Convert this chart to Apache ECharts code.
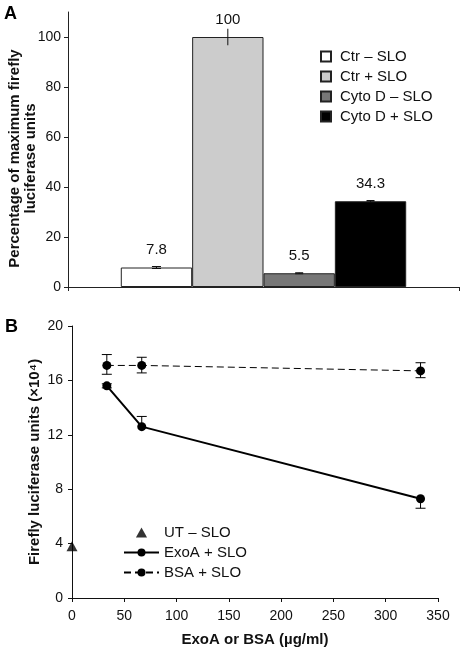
<!DOCTYPE html>
<html>
<head>
<meta charset="utf-8">
<script src="https://cdn.jsdelivr.net/npm/echarts@6/dist/echarts.min.js"></script>
<style>html,body{margin:0;padding:0;background:#fff}#c{width:462px;height:648px}</style>
</head>
<body>
<div id="c"></div>
<script>
// ---- Panel A data ----
const barNames = ['Ctr \u2013 SLO', 'Ctr + SLO', 'Cyto D \u2013 SLO', 'Cyto D + SLO'];
const barValues = [7.8, 100, 5.5, 34.3];
const barErrors = [0.4, 3.3, 0.2, 0.3];
const barLabels = ['7.8', '100', '5.5', '34.3'];
const yTicksA = [0, 20, 40, 60, 80, 100];

// ---- Panel B data ----
const doseX = [33.3, 66.7, 333.3];
const exoA = [15.6, 12.6, 7.3];
const exoAErrUp = [0.15, 0.75, 0];
const exoAErrDown = [0.15, 0, 0.7];
const bsa = [17.1, 17.1, 16.7];
const bsaErrUp = [0.8, 0.6, 0.6];
const bsaErrDown = [0.65, 0.55, 0.5];
const utX = [0];
const utY = [3.8];
const lineNames = ['UT \u2013 SLO', 'ExoA + SLO', 'BSA + SLO'];

// styles
const barColors = ['#ffffff', '#cccccc', '#777777', '#000000'];
const capW = [9, 0, 8, 8];
const FONT = 'Liberation Sans, Arial, sans-serif';
const catGap = 0.27;
const triPath = 'path://M5,0L10,9L0,9Z';

const chart = echarts.init(document.getElementById('c'), null, {renderer: 'canvas'});

const barSeries = barNames.map((n, i) => ({
  name: n, type: 'bar', xAxisIndex: 0, yAxisIndex: 0,
  data: [barValues[i]],
  barGap: '0%', barCategoryGap: (catGap * 100) + '%',
  itemStyle: {color: barColors[i], borderColor: '#222', borderWidth: 1},
  label: {show: true, position: 'top', distance: 10, formatter: () => barLabels[i],
          fontFamily: FONT, fontSize: 15, color: '#111'},
  emphasis: {disabled: true}
}));

const errA = {
  type: 'custom', xAxisIndex: 0, yAxisIndex: 0, z: 5, silent: true,
  data: barValues.map((v, i) => [0, v, barErrors[i], i]),
  encode: {x: 0, y: 1},
  renderItem: function (params, api) {
    const i = api.value(3);
    const v = api.value(1), e = api.value(2);
    const c = api.coord([0, v]);
    const band = api.size([1, 0])[0];
    const groupW = band * (1 - catGap);
    const bw = groupW / barValues.length;
    const x = c[0] - groupW / 2 + (i + 0.5) * bw;
    const yt = api.coord([0, v + e])[1];
    const yb = api.coord([0, v - e])[1];
    const w = capW[i] / 2;
    const st = {stroke: '#111', lineWidth: 1};
    const ch = [{type: 'line', shape: {x1: x, y1: yt, x2: x, y2: yb}, style: st}];
    if (w > 0) {
      ch.push({type: 'line', shape: {x1: x - w, y1: yt, x2: x + w, y2: yt}, style: st});
      ch.push({type: 'line', shape: {x1: x - w, y1: yb, x2: x + w, y2: yb}, style: st});
    }
    return {type: 'group', children: ch};
  }
};

function errRender(params, api) {
  const x = api.value(0), y = api.value(1), up = api.value(2), dn = api.value(3);
  const p = api.coord([x, y]);
  const yt = api.coord([x, y + up])[1];
  const yb = api.coord([x, y - dn])[1];
  const st = {stroke: '#000', lineWidth: 1};
  const w = 5;
  const ch = [{type: 'line', shape: {x1: p[0], y1: yt, x2: p[0], y2: yb}, style: st}];
  if (up > 0) ch.push({type: 'line', shape: {x1: p[0] - w, y1: yt, x2: p[0] + w, y2: yt}, style: st});
  if (dn > 0) ch.push({type: 'line', shape: {x1: p[0] - w, y1: yb, x2: p[0] + w, y2: yb}, style: st});
  return {type: 'group', children: ch};
}

const option = {
  animation: false,
  backgroundColor: '#fff',
  textStyle: {fontFamily: FONT},
  graphic: [
    {type: 'text', left: 4, top: 5, style: {text: 'A', font: 'bold 18px ' + FONT, fill: '#000'}},
    {type: 'text', left: 5, top: 318, style: {text: 'B', font: 'bold 18px ' + FONT, fill: '#000'}}
  ],
  legend: [
    {
      data: barNames.map(n => ({name: n, icon: 'rect'})), orient: 'vertical', left: 320, top: 49, padding: 0,
      itemWidth: 10, itemHeight: 10, itemGap: 5,
      textStyle: {fontFamily: FONT, fontSize: 15, color: '#111', padding: [0, 0, 0, 4]},
      selectedMode: false
    },
    {
      data: [{name: lineNames[0], icon: triPath}, lineNames[1], lineNames[2]],
      orient: 'vertical', left: 123, top: 525, padding: 0,
      itemWidth: 35, itemHeight: 10, itemGap: 5, symbolKeepAspect: true,
      textStyle: {fontFamily: FONT, fontSize: 15, color: '#111'},
      selectedMode: false
    }
  ],
  grid: [
    {left: 68, top: 12, width: 391, height: 275, containLabel: false, outerBoundsMode: 'none'},
    {left: 72, top: 326, width: 366, height: 272, containLabel: false, outerBoundsMode: 'none'}
  ],
  xAxis: [
    {
      type: 'category', gridIndex: 0, data: [''],
      axisLine: {lineStyle: {color: '#222', width: 1}},
      axisTick: {show: true, length: 4, lineStyle: {color: '#222'}},
      axisLabel: {show: false}, splitLine: {show: false}
    },
    {
      type: 'value', gridIndex: 1, min: 0, max: 350, interval: 50,
      name: 'ExoA or BSA (\u00b5g/ml)', nameLocation: 'middle', nameGap: 34, nameMoveOverlap: false,
      nameTextStyle: {fontFamily: FONT, fontSize: 15, fontWeight: 'bold', color: '#111'},
      axisLine: {onZero: false, lineStyle: {color: '#111', width: 1}},
      axisTick: {show: true, length: 4, lineStyle: {color: '#111'}},
      axisLabel: {fontFamily: FONT, fontSize: 14, color: '#111', margin: 11},
      splitLine: {show: false}
    }
  ],
  yAxis: [
    {
      type: 'value', gridIndex: 0, min: 0, max: 110, interval: 20,
      name: 'Percentage of maximum firefly\nluciferase units', nameLocation: 'middle', nameGap: 29,
      nameMoveOverlap: false,
      nameTextStyle: {fontFamily: FONT, fontSize: 15, fontWeight: 'bold', color: '#111', lineHeight: 16,
                      padding: [0, 18, 0, 0]},
      axisLine: {show: true, lineStyle: {color: '#222', width: 1}},
      axisTick: {show: true, length: 4, customValues: yTicksA, lineStyle: {color: '#222'}},
      axisLabel: {fontFamily: FONT, fontSize: 14, color: '#111', margin: 7, customValues: yTicksA},
      splitLine: {show: false}
    },
    {
      type: 'value', gridIndex: 1, min: 0, max: 20, interval: 4,
      name: 'Firefly luciferase units (\u00d710\u2074)', nameLocation: 'middle', nameGap: 30,
      nameMoveOverlap: false,
      nameTextStyle: {fontFamily: FONT, fontSize: 15, fontWeight: 'bold', color: '#111'},
      axisLine: {show: true, onZero: false, lineStyle: {color: '#111', width: 1}},
      axisTick: {show: true, length: 4, lineStyle: {color: '#111'}},
      axisLabel: {fontFamily: FONT, fontSize: 14, color: '#111', margin: 9},
      splitLine: {show: false}
    }
  ],
  series: [
    ...barSeries,
    errA,
    {
      name: lineNames[0], type: 'scatter', xAxisIndex: 1, yAxisIndex: 1, clip: false,
      data: utX.map((x, i) => [x, utY[i]]),
      symbol: triPath, symbolSize: [11, 10],
      itemStyle: {color: '#000'}
    },
    {
      name: lineNames[1], type: 'line', xAxisIndex: 1, yAxisIndex: 1,
      data: doseX.map((x, i) => [x, exoA[i]]),
      symbol: 'circle', symbolSize: 9, showSymbol: true,
      lineStyle: {color: '#000', width: 2}, itemStyle: {color: '#000'}, z: 3
    },
    {
      name: lineNames[2], type: 'line', xAxisIndex: 1, yAxisIndex: 1,
      data: doseX.map((x, i) => [x, bsa[i]]),
      symbol: 'circle', symbolSize: 9, showSymbol: true,
      lineStyle: {color: '#000', width: 1, type: [7, 4]}, itemStyle: {color: '#000'}, z: 3
    },
    {
      type: 'custom', xAxisIndex: 1, yAxisIndex: 1, z: 4, silent: true,
      data: doseX.map((x, i) => [x, exoA[i], exoAErrUp[i], exoAErrDown[i]]),
      encode: {x: 0, y: 1}, renderItem: errRender
    },
    {
      type: 'custom', xAxisIndex: 1, yAxisIndex: 1, z: 4, silent: true,
      data: doseX.map((x, i) => [x, bsa[i], bsaErrUp[i], bsaErrDown[i]]),
      encode: {x: 0, y: 1}, renderItem: errRender
    }
  ]
};
chart.setOption(option);
</script>
</body>
</html>
